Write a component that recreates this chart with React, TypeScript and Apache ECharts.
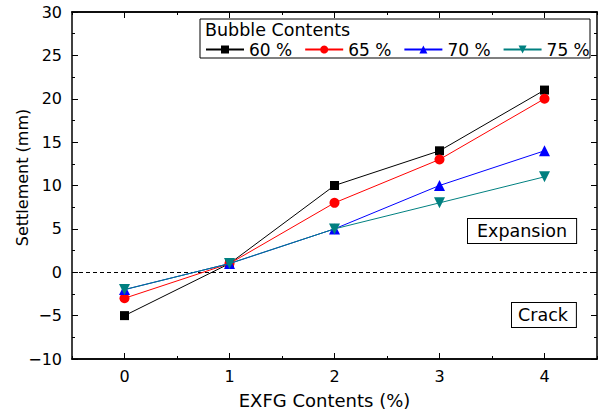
import React, { useEffect, useRef } from "react";
import * as echarts from "echarts";

const xValues = [0, 1, 2, 3, 4];
const seriesNames = ["60 %", "65 %", "70 %", "75 %"];
const s60 = [-5, 1, 10, 14, 21];
const s65 = [-3, 1, 8, 13, 20];
const s70 = [-2, 1, 5, 10, 14];
const s75 = [-2, 1, 5, 8, 11];
const xMajorTicks = [0, 1, 2, 3, 4];
const xMinorTicks = [-0.5, 0.5, 1.5, 2.5, 3.5, 4.5];

const FONT = "DejaVu Sans";

export default function App() {
  const ref = useRef<HTMLDivElement>(null);
  useEffect(() => {
    document.body.style.margin = "0";
    document.documentElement.style.overflow = "hidden";
    document.body.style.overflow = "hidden";
    const chart = echarts.init(ref.current!, null, { renderer: "svg", width: 602, height: 411 });
    const values = [s60, s65, s70, s75];
    const colors = ["#000000", "#ff0000", "#0000ff", "#008080"];
    const symbols = ["rect", "circle", "triangle", "triangle"];
    const rotates = [0, 0, 0, 180];
    const sizes = [9, 10, 11, 11];

    const baseX = {
      type: "value" as const,
      min: -0.5,
      max: 4.5,
      splitLine: { show: false },
      axisLine: { show: true, onZero: false, lineStyle: { color: "#000", width: 1.5 } },
    };
    const baseY = {
      type: "value" as const,
      min: -10,
      max: 30,
      interval: 5,
      splitLine: { show: false },
      axisLine: { show: true, onZero: false, lineStyle: { color: "#000", width: 1.5 } },
      axisTick: { show: true, inside: true, length: 6, lineStyle: { color: "#000" } },
      minorTick: { show: true, splitNumber: 2, length: 3, lineStyle: { color: "#000" } },
    };

    chart.setOption({
      animation: false,
      backgroundColor: "#ffffff",
      grid: { left: 72, right: 5, top: 12, bottom: 52, containLabel: false, outerBoundsMode: "none" },
      xAxis: [
        {
          ...baseX,
          position: "bottom",
          name: "EXFG Contents (%)",
          nameLocation: "middle",
          nameGap: 32,
          nameMoveOverlap: false,
          nameTextStyle: { fontFamily: FONT, fontSize: 18, color: "#000", padding: [0, 20, 0, 0] },
          axisTick: { show: true, inside: true, length: 6, customValues: xMajorTicks, lineStyle: { color: "#000" } },
          axisLabel: {
            show: true,
            customValues: xMajorTicks,
            margin: 9,
            fontFamily: FONT,
            fontSize: 16,
            color: "#000",
          },
        },
        {
          ...baseX,
          position: "bottom",
          axisTick: { show: true, inside: true, length: 3, customValues: xMinorTicks, lineStyle: { color: "#000" } },
          axisLabel: { show: false },
        },
        {
          ...baseX,
          position: "top",
          axisTick: { show: true, inside: true, length: 6, customValues: xMajorTicks, lineStyle: { color: "#000" } },
          axisLabel: { show: false },
        },
        {
          ...baseX,
          position: "top",
          axisTick: { show: true, inside: true, length: 3, customValues: xMinorTicks, lineStyle: { color: "#000" } },
          axisLabel: { show: false },
        },
      ],
      yAxis: [
        {
          ...baseY,
          position: "left",
          name: "Settlement (mm)",
          nameLocation: "middle",
          nameGap: 42,
          nameMoveOverlap: false,
          nameTextStyle: { fontFamily: FONT, fontSize: 16, color: "#000", padding: [0, 0, 0, 16] },
          axisLabel: {
            show: true,
            margin: 10,
            fontFamily: FONT,
            fontSize: 16,
            color: "#000",
            formatter: (v: number) => String(v).replace("-", "\u2212"),
          },
        },
        {
          ...baseY,
          position: "right",
          axisLabel: { show: false },
        },
      ],
      legend: {
        left: 205,
        top: 41,
        itemWidth: 38,
        itemHeight: 10,
        itemGap: 12,
        padding: 0,
        textStyle: { fontFamily: FONT, fontSize: 17, color: "#000" },
        data: seriesNames,
      },
      graphic: [
        {
          type: "rect",
          shape: { x: 200, y: 19, width: 390, height: 39 },
          style: { fill: "#ffffff", stroke: "#000", lineWidth: 1 },
        },
        {
          type: "text",
          x: 205,
          y: 21,
          style: { text: "Bubble Contents", fontFamily: FONT, fontSize: 17.5, fill: "#000" },
        },
        {
          type: "text",
          x: 468,
          y: 219,
          style: {
            text: "Expansion",
            fontFamily: FONT,
            fontSize: 17.5,
            fill: "#000",
            backgroundColor: "#fff",
            borderColor: "#000",
            borderWidth: 1,
            padding: [3, 9, 3, 9],
          },
        },
        {
          type: "text",
          x: 512,
          y: 303,
          style: {
            text: "Crack",
            fontFamily: FONT,
            fontSize: 17.5,
            fill: "#000",
            backgroundColor: "#fff",
            borderColor: "#000",
            borderWidth: 1,
            padding: [3, 8, 3, 6],
          },
        },
      ],
      series: values.map((vals, i) => ({
        name: seriesNames[i],
        type: "line",
        xAxisIndex: 0,
        yAxisIndex: 0,
        data: vals.map((v, j) => [xValues[j], v]),
        symbol: symbols[i],
        symbolRotate: rotates[i],
        symbolSize: sizes[i],
        lineStyle: { color: colors[i], width: 1 },
        itemStyle: { color: colors[i] },
        z: 3 + i,
        markLine:
          i === 0
            ? {
                silent: true,
                symbol: "none",
                label: { show: false },
                lineStyle: { color: "#000", type: [4, 3], width: 1 },
                data: [{ yAxis: 0 }],
                z: 1,
              }
            : undefined,
      })),
    });
    return () => chart.dispose();
  }, []);
  return (
    <div
      ref={ref}
      style={{ position: "absolute", left: 0, top: 0, width: 602, height: 411 }}
    />
  );
}
